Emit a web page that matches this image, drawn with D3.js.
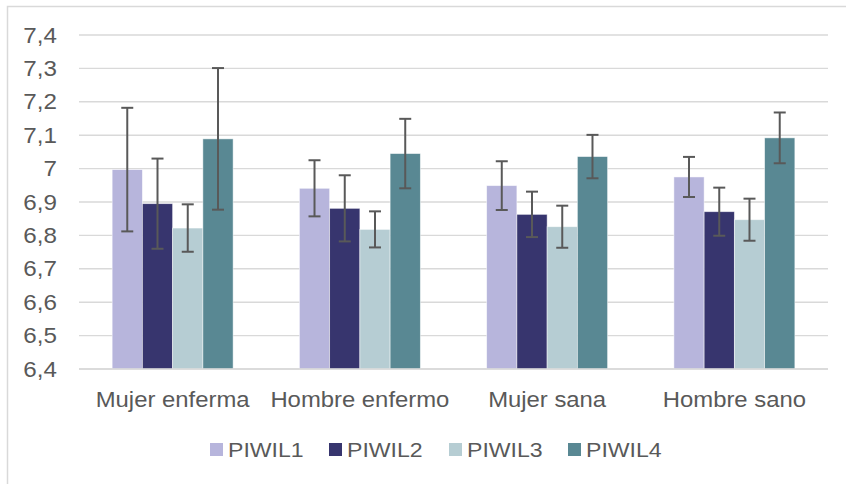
<!DOCTYPE html>
<html>
<head>
<meta charset="utf-8">
<script src="https://cdn.jsdelivr.net/npm/d3@7"></script>
<style>
  html, body { margin: 0; padding: 0; background: #fff; }
  svg { display: block; }
  text { font-family: "Liberation Sans", Arial, sans-serif; fill: #595959; }
</style>
</head>
<body>
<svg id="chart" width="846" height="484"></svg>
<script>
// Groups along the x axis
const categories = ["Mujer enferma", "Hombre enfermo", "Mujer sana", "Hombre sano"];
// Series names (legend order)
const series = ["PIWIL1", "PIWIL2", "PIWIL3", "PIWIL4"];
// Mean values per series, one entry per category
const piwil1 = [6.997, 6.941, 6.949, 6.975];
const piwil2 = [6.895, 6.881, 6.863, 6.871];
const piwil3 = [6.822, 6.818, 6.826, 6.847];
const piwil4 = [7.089, 7.045, 7.036, 7.092];
// Error (± deviation) per series, one entry per category
const err1 = [0.185, 0.084, 0.073, 0.060];
const err2 = [0.135, 0.099, 0.068, 0.072];
const err3 = [0.071, 0.054, 0.063, 0.063];
const err4 = [0.212, 0.104, 0.065, 0.076];
// Y axis ticks
const yTicks = [6.4, 6.5, 6.6, 6.7, 6.8, 6.9, 7.0, 7.1, 7.2, 7.3, 7.4];
const colors = ["#b7b5dc", "#37356e", "#b6cdd3", "#598893"];

const values = [piwil1, piwil2, piwil3, piwil4];
const errors = [err1, err2, err3, err4];

const rows = [];
categories.forEach((c, ci) => {
  series.forEach((s, si) => {
    rows.push({ cat: c, ser: s, si, v: values[si][ci], e: errors[si][ci] });
  });
});

const svg = d3.select("#chart");

// Outer frame
svg.append("rect")
  .attr("x", 7.5).attr("y", 6.5)
  .attr("width", 846).attr("height", 484)
  .attr("fill", "none").attr("stroke", "#d9d9d9").attr("stroke-width", 1.5);

const plotLeft = 79, plotRight = 828, plotTop = 35, plotBottom = 369;

const y = d3.scaleLinear().domain([6.4, 7.4]).range([plotBottom, plotTop]);
const x0 = d3.scaleBand().domain(categories).range([plotLeft, plotRight])
  .paddingInner(0.354).paddingOuter(0.177);
const x1 = d3.scaleBand().domain(series).range([0, x0.bandwidth()]).padding(0);

const fmt = d => d3.format(".1f")(d).replace(".0", "").replace(".", ",");

// Gridlines
svg.append("g")
  .selectAll("line")
  .data(yTicks)
  .join("line")
  .attr("x1", plotLeft).attr("x2", plotRight)
  .attr("y1", d => y(d)).attr("y2", d => y(d))
  .attr("stroke", "#d9d9d9").attr("stroke-width", 1.4);

// Y axis labels
const yAxis = d3.axisLeft(y).tickValues(yTicks).tickFormat(fmt).tickSize(0).tickPadding(0);
const gy = svg.append("g").attr("transform", `translate(${plotLeft - 22},0)`).call(yAxis);
gy.select(".domain").remove();
gy.selectAll("text")
  .style("font-size", "22px")
  .style("font-family", "'Liberation Sans', Arial, sans-serif")
  .attr("fill", "#595959")
  .attr("transform", "scale(1.1,1)");

// Bars
svg.append("g")
  .selectAll("rect")
  .data(rows)
  .join("rect")
  .attr("x", d => x0(d.cat) + x1(d.ser))
  .attr("y", d => y(d.v))
  .attr("width", x1.bandwidth())
  .attr("height", d => y(6.4) - y(d.v))
  .attr("fill", d => colors[d.si])
  .attr("stroke", "#ffffff").attr("stroke-opacity", 0.6).attr("stroke-width", 0.8);

// Baseline
svg.append("line")
  .attr("x1", plotLeft).attr("x2", plotRight)
  .attr("y1", plotBottom).attr("y2", plotBottom)
  .attr("stroke", "#d9d9d9").attr("stroke-width", 1.4);

// Error bars
const eg = svg.append("g").attr("stroke", "#595959").attr("stroke-width", 2);
const cap = 6;
rows.forEach(d => {
  const cx = x0(d.cat) + x1(d.ser) + x1.bandwidth() / 2;
  const yt = y(d.v + d.e), yb = y(d.v - d.e);
  eg.append("line").attr("x1", cx).attr("x2", cx).attr("y1", yt).attr("y2", yb);
  eg.append("line").attr("x1", cx - cap).attr("x2", cx + cap).attr("y1", yt).attr("y2", yt);
  eg.append("line").attr("x1", cx - cap).attr("x2", cx + cap).attr("y1", yb).attr("y2", yb);
});

// X axis labels
const xAxis = d3.axisBottom(x0).tickSize(0).tickPadding(0);
const gx = svg.append("g").attr("transform", `translate(0,${plotBottom + 22})`).call(xAxis);
gx.select(".domain").remove();
gx.selectAll("text")
  .style("font-size", "22px")
  .style("font-family", "'Liberation Sans', Arial, sans-serif")
  .attr("fill", "#595959")
  .attr("transform", "scale(1.085,1)");

// Legend
const legendX = [210, 329, 449, 568];
const lg = svg.append("g");
series.forEach((s, i) => {
  lg.append("rect").attr("x", legendX[i]).attr("y", 443).attr("width", 13).attr("height", 13)
    .attr("fill", colors[i]);
  lg.append("text")
    .attr("transform", `translate(${legendX[i] + 18},457) scale(1.1,1)`)
    .style("font-size", "21px").text(s);
});
</script>
</body>
</html>
